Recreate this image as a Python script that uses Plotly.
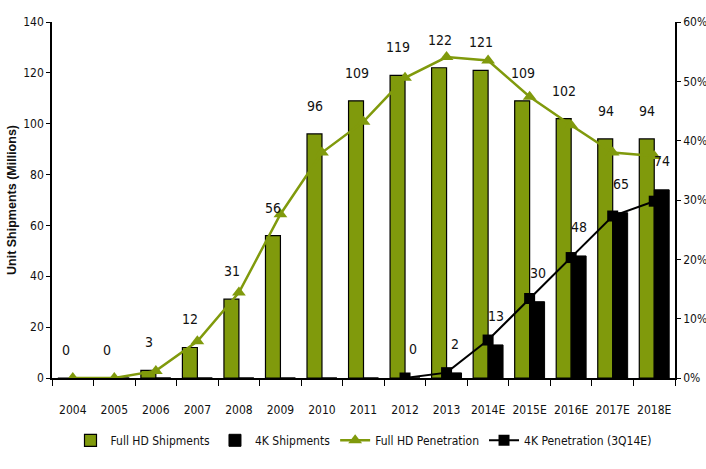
import plotly.graph_objects as go

years = ["2004", "2005", "2006", "2007", "2008", "2009", "2010", "2011", "2012",
         "2013", "2014E", "2015E", "2016E", "2017E", "2018E"]
fullhd_ship = [0, 0, 3, 12, 31, 56, 96, 109, 119, 122, 121, 109, 102, 94, 94]
k4_ship = [0, 0, 0, 0, 0, 0, 0, 0, 0, 2, 13, 30, 48, 65, 74]
k4_label_years = ["2012", "2013", "2014E", "2015E", "2016E", "2017E", "2018E"]
k4_label_vals = [0, 2, 13, 30, 48, 65, 74]
fullhd_pen = [0.0, 0.0, 1.2, 6.2, 14.4, 27.6, 38.0, 43.2, 50.6, 54.1, 53.5, 47.4, 42.6, 38.0, 37.4]
k4_pen_years = ["2012", "2013", "2014E", "2015E", "2016E", "2017E", "2018E"]
k4_pen = [0.0, 0.9, 6.4, 13.4, 20.3, 27.3, 29.8]
left_ticks = [0, 20, 40, 60, 80, 100, 120, 140]
right_ticks = [0, 10, 20, 30, 40, 50, 60]
right_labels = [f"{t}%" for t in right_ticks]

GREEN = "#809a0c"
FONT = "Liberation Sans Narrow, DejaVu Sans Condensed, Liberation Sans, Arial, sans-serif"

fig = go.Figure()
fig.add_trace(go.Bar(x=years, y=fullhd_ship, name="Full HD Shipments",
                     marker=dict(color=GREEN, line=dict(color="black", width=1.2))))
fig.add_trace(go.Bar(x=years, y=k4_ship, name="4K Shipments",
                     marker=dict(color="black", line=dict(color="black", width=1))))
fig.add_trace(go.Scatter(x=years, y=fullhd_pen, name="Full HD Penetration", yaxis="y2",
                         mode="lines+markers", line=dict(color=GREEN, width=2.5),
                         marker=dict(symbol="triangle-up", size=12, color=GREEN)))
fig.add_trace(go.Scatter(x=k4_pen_years, y=k4_pen, name="4K Penetration (3Q14E)", yaxis="y2",
                         mode="lines+markers", line=dict(color="black", width=2),
                         marker=dict(symbol="square", size=11, color="black")))

for yr, v in zip(years, fullhd_ship):
    fig.add_annotation(x=years.index(yr), y=v, text=str(v), showarrow=False, xshift=-7, yshift=28,
                       font=dict(size=14, color="#111", family=FONT))
for yr, v in zip(k4_label_years, k4_label_vals):
    fig.add_annotation(x=years.index(yr), y=v, text=str(v), showarrow=False, xshift=8, yshift=29,
                       font=dict(size=14, color="#111", family=FONT))

fig.update_layout(
    width=706, height=469,
    margin=dict(l=52, r=31, t=22, b=91),
    paper_bgcolor="white", plot_bgcolor="white",
    barmode="group", bargap=0.28, bargroupgap=0,
    font=dict(family=FONT, size=12, color="#111"),
    showlegend=True,
    legend=dict(orientation="h", x=0.5, xanchor="center", y=-0.175, yanchor="middle",
                font=dict(size=12, family=FONT), itemwidth=30, tracegroupgap=0),
    xaxis=dict(type="category", range=[-0.5, len(years) - 0.5], showline=True,
               linecolor="black", linewidth=2, tickangle=0, automargin=False,
               ticks="outside", tickson="boundaries", ticklen=6, tickcolor="black",
               ticklabelstandoff=20,
               tickfont=dict(size=12, family=FONT), showgrid=False, zeroline=False),
    yaxis=dict(range=[0, 140], tickmode="array", tickvals=left_ticks, showline=True, linecolor="black",
               linewidth=1.5, ticks="outside", ticklen=4, tickcolor="black", automargin=False,
               showgrid=False, zeroline=False, tickfont=dict(size=12, family=FONT),
               title=dict(text="<b>Unit Shipments (Millions)</b>", standoff=4,
                          font=dict(size=12.5, family="Liberation Sans, Arial, sans-serif"))),
    yaxis2=dict(range=[0, 60], tickmode="array", tickvals=right_ticks, ticktext=right_labels,
                overlaying="y", side="right", showline=True, linecolor="black", linewidth=1.5,
                ticks="outside", ticklen=4, tickcolor="black", showgrid=False, automargin=False,
                zeroline=False, tickfont=dict(size=12, family=FONT)),
)

fig.write_html("out.html")
